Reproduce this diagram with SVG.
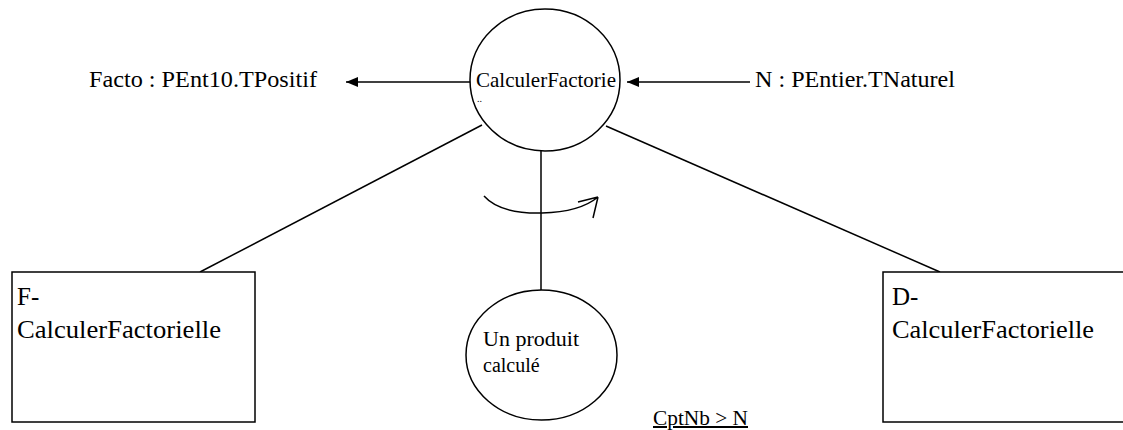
<svg xmlns="http://www.w3.org/2000/svg" width="1123" height="430" viewBox="0 0 1123 430" font-family="'Liberation Serif', Tinos, 'DejaVu Serif', serif">
<style>
.s{fill:none;stroke:#000;stroke-width:1.5}
.n{fill:#fff;stroke:#000;stroke-width:1.5}
.t{font-family:"Liberation Serif",Tinos,"DejaVu Serif",serif;fill:#000}
</style>
<defs>
<marker id="ah" markerWidth="12" markerHeight="10" refX="12" refY="5" orient="auto" markerUnits="userSpaceOnUse">
<path d="M0,0 L12,5 L0,10 z" fill="#000"/>
</marker>
</defs>
<rect width="1123" height="430" fill="#fff"/>
<g id="connectors">
<line class="s" x1="482" y1="125" x2="200" y2="272"/>
<line class="s" x1="606" y1="126" x2="940" y2="272"/>
<line class="s" x1="541" y1="151" x2="541" y2="290"/>
<line class="s" x1="471" y1="82" x2="346" y2="82" marker-end="url(#ah)"/>
<line class="s" x1="750" y1="82" x2="627" y2="82" marker-end="url(#ah)"/>
<path class="s" d="M484,196 Q500,214 542,213 Q580,212 598,197 M598,197 L578,202 M598,197 L593,218"/>
</g>
<g id="main">
<ellipse class="n" cx="545" cy="80" rx="75" ry="71"/>
<text class="t" x="476" y="87" font-size="21" textLength="140" lengthAdjust="spacingAndGlyphs">CalculerFactorie</text>
<text class="t" x="477" y="102" font-size="10">..</text>
</g>
<g id="out">
<text class="t" x="89" y="87" font-size="23" textLength="228" lengthAdjust="spacingAndGlyphs">Facto : PEnt10.TPositif</text>
</g>
<g id="in">
<text class="t" x="755" y="87" font-size="23" textLength="200" lengthAdjust="spacingAndGlyphs">N : PEntier.TNaturel</text>
</g>
<g id="f">
<rect class="n" x="12" y="272" width="243" height="150"/>
<text class="t" x="17" y="305" font-size="25">F-</text>
<text class="t" x="17" y="338" font-size="25" textLength="204" lengthAdjust="spacingAndGlyphs">CalculerFactorielle</text>
</g>
<g id="d">
<rect class="n" x="883" y="272" width="250" height="150"/>
<text class="t" x="892" y="305" font-size="25">D-</text>
<text class="t" x="892" y="338" font-size="25" textLength="202" lengthAdjust="spacingAndGlyphs">CalculerFactorielle</text>
</g>
<g id="produit">
<ellipse class="n" cx="541.5" cy="355" rx="75.5" ry="65"/>
<text class="t" x="483" y="346" font-size="20" textLength="96" lengthAdjust="spacingAndGlyphs">Un produit</text>
<text class="t" x="483" y="372" font-size="20">calculé</text>
</g>
<g id="cond">
<text class="t" x="653" y="425" font-size="20" text-decoration="underline" textLength="95" lengthAdjust="spacingAndGlyphs">CptNb &gt; N</text>
</g>
</svg>
